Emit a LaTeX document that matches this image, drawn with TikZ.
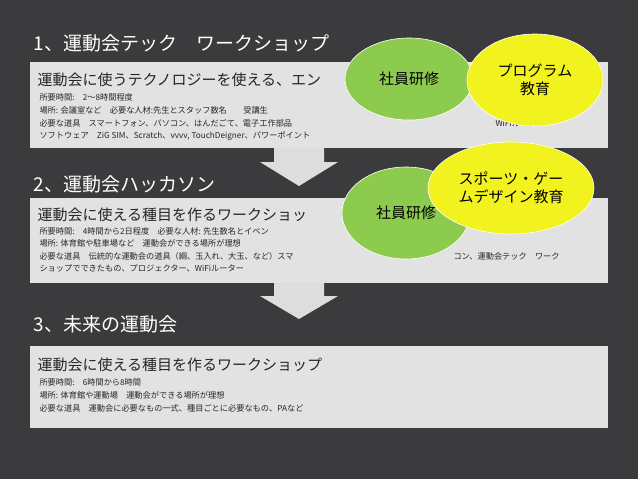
\documentclass[tikz,border=0pt]{standalone}
\usepackage{fontspec}
\setmainfont{Noto Sans CJK JP}
\begin{document}
\begin{tikzpicture}[x=1pt,y=-1pt,
 box/.style={fill=boxgray,draw=none},
 ttl/.style={anchor=west,text=white,font=\fontsize{19}{21}\selectfont},
 hd/.style={anchor=west,font=\fontsize{15}{17}\selectfont,text=black!85},
 sm/.style={anchor=west,font=\fontsize{8.2}{9}\selectfont,text=black!85},
 arr/.style={fill=arrgray,draw=none},
 gell/.style={ellipse,fill=egreen,draw=white,line width=0.6pt,font=\fontsize{15}{18}\selectfont,align=center},
 yell/.style={ellipse,fill=eyellow,draw=white,line width=0.6pt,font=\fontsize{15}{18}\selectfont,align=center}]
\usetikzlibrary{shapes.geometric}
\definecolor{bg}{HTML}{3B3B3E}\definecolor{boxgray}{HTML}{E2E2E2}\definecolor{arrgray}{HTML}{DDDDDD}
\definecolor{egreen}{HTML}{8DCB4E}\definecolor{eyellow}{HTML}{F2F21E}
\fill[bg] (0,0) rectangle (638,479);
\useasboundingbox (0,0) rectangle (638,479);
\node[ttl] (t1) at (30,43) {1、運動会テック　ワークショップ};
\fill[box] (30,62) rectangle (608,148);
\node[hd] (h1) at (34,80) {運動会に使うテクノロジーを使える、エン};
\node[sm] (a1) at (36,97) {所要時間:　2～8時間程度};
\node[sm] (a2) at (36,110) {場所: 会議室など　必要な人材:先生とスタッフ数名　　受講生};
\node[sm] (a3) at (36,123) {必要な道具　スマートフォン、パソコン、はんだごて、電子工作部品};
\node[sm] (a3b) at (492,123) {WiFiルーター};
\node[sm] (a4) at (36,136) {ソフトウェア　ZiG SIM、Scratch、vvvv, TouchDeigner、パワーポイント};
\fill[arr] (274,148)--(324,148)--(324,162)--(338,162)--(299,186)--(260,162)--(274,162)--cycle;
\node[ttl] (t2) at (30,184) {2、運動会ハッカソン};
\fill[box] (30,198) rectangle (608,283);
\node[hd] (h2) at (34,215) {運動会に使える種目を作るワークショッ};
\node[sm] (b1) at (36,231) {所要時間:　4時間から2日程度　必要な人材: 先生数名とイベン};
\node[sm] (b2) at (36,243) {場所: 体育館や駐車場など　運動会ができる場所が理想};
\node[sm] (b3) at (36,256) {必要な道具　伝統的な運動会の道具（綱、玉入れ、大玉、など）スマ};
\node[sm] (b3b) at (450,256) {コン、運動会テック　ワーク};
\node[sm] (b4) at (36,268) {ショップでできたもの、プロジェクター、WiFiルーター};
\fill[arr] (274,283)--(324,283)--(324,296)--(338,296)--(299,319)--(260,296)--(274,296)--cycle;
\node[ttl] (t3) at (30,324) {3、未来の運動会};
\fill[box] (30,346) rectangle (608,428);
\node[hd] (h3) at (34,365) {運動会に使える種目を作るワークショップ};
\node[sm] (c1) at (36,382) {所要時間:　6時間から8時間};
\node[sm] (c2) at (36,395) {場所: 体育館や運動場　運動会ができる場所が理想};
\node[sm] (c3) at (36,408) {必要な道具　運動会に必要なもの一式、種目ごとに必要なもの、PAなど};
\node[gell,minimum width=128pt,minimum height=82pt] (g1) at (409,79) {社員研修};
\node[yell,minimum width=136pt,minimum height=92pt] (y1) at (535,80) {プログラム\\教育};
\node[gell,minimum width=128pt,minimum height=92pt] (g2) at (406,213) {社員研修};
\node[yell,minimum width=166pt,minimum height=92pt] (y2) at (511,188) {スポーツ・ゲー\\ムデザイン教育};
\end{tikzpicture}
\end{document}
